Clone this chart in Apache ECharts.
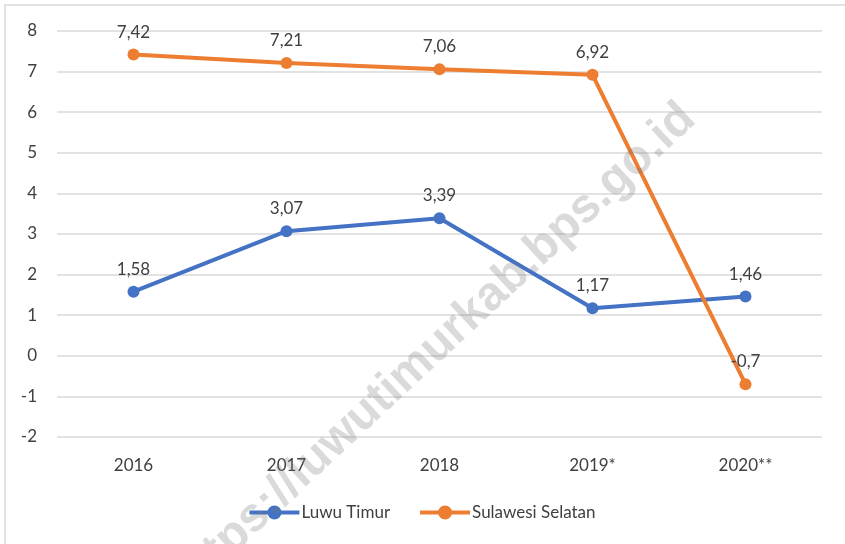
<!DOCTYPE html>
<html>
<head>
<meta charset="utf-8">
<script src="https://cdn.jsdelivr.net/npm/echarts@6/dist/echarts.min.js"></script>
<style>
  html, body { margin: 0; padding: 0; background: #fff; }
  #chart { width: 845px; height: 544px; }
</style>
</head>
<body>
<div id="chart"></div>
<script>
// data
const years = ['2016', '2017', '2018', '2019*', '2020**'];
const luwuTimur = [1.58, 3.07, 3.39, 1.17, 1.46];
const sulSel = [7.42, 7.21, 7.06, 6.92, -0.7];
const seriesNames = ['Luwu Timur', 'Sulawesi Selatan'];
const watermark = 'https://luwutimurkab.bps.go.id';

const font = 'Lato, "Open Sans", sans-serif';
const txt = '#404040';
const colors = ['#4472c4', '#ed7d31'];
// thick line with a dot, like the legend keys in the picture
const legendIcon = 'path://M0,5h50v4h-50z M25,0A7,7 0 1,1 24.99,0Z';

const chart = echarts.init(document.getElementById('chart'), null, { renderer: 'canvas' });

function fmt(p) {
  return String(p.value).replace('.', ',');
}

function lineSeries(name, data, color) {
  return {
    name: name,
    type: 'line',
    data: data,
    symbol: 'circle',
    symbolSize: 12,
    lineStyle: { width: 4, color: color },
    itemStyle: { color: color },
    label: {
      show: true,
      position: 'top',
      distance: 8,
      formatter: fmt,
      color: txt,
      fontFamily: font,
      fontSize: 17
    },
    z: 3
  };
}

const option = {
  backgroundColor: '#fff',
  animation: false,
  grid: { left: 57, right: 23, top: 31, bottom: 107 },
  xAxis: {
    type: 'category',
    data: years,
    boundaryGap: true,
    axisLine: { show: false },
    axisTick: { show: false },
    axisLabel: { color: txt, fontFamily: font, fontSize: 17, margin: 20 }
  },
  yAxis: {
    type: 'value',
    min: -2,
    max: 8,
    interval: 1,
    axisLine: { show: false },
    axisTick: { show: false },
    splitLine: { lineStyle: { color: '#d9d9d9', width: 1.5 } },
    axisLabel: { color: txt, fontFamily: font, fontSize: 17, margin: 20 }
  },
  legend: {
    bottom: 18,
    left: 'center',
    itemWidth: 50,
    itemHeight: 14,
    itemGap: 30,
    textStyle: { color: txt, fontFamily: font, fontSize: 17, padding: [0, 0, 0, -3] },
    data: seriesNames.map((n, i) => ({ name: n, icon: legendIcon, itemStyle: { color: colors[i] } }))
  },
  graphic: [
    {
      type: 'rect',
      shape: { x: 5, y: 5, width: 860, height: 560 },
      style: { fill: 'none', stroke: '#d9d9d9', lineWidth: 1.5 },
      silent: true,
      z: -1
    },
    {
      type: 'text',
      x: 433,
      y: 350,
      rotation: 43 * Math.PI / 180,
      silent: true,
      z: 100,
      style: {
        text: watermark,
        fill: 'rgba(120,120,120,0.27)',
        font: 'bold 48px "Liberation Sans", Arial, sans-serif',
        align: 'center',
        verticalAlign: 'middle'
      }
    }
  ],
  series: [
    lineSeries(seriesNames[0], luwuTimur, colors[0]),
    lineSeries(seriesNames[1], sulSel, colors[1])
  ]
};

chart.setOption(option);
</script>
</body>
</html>
